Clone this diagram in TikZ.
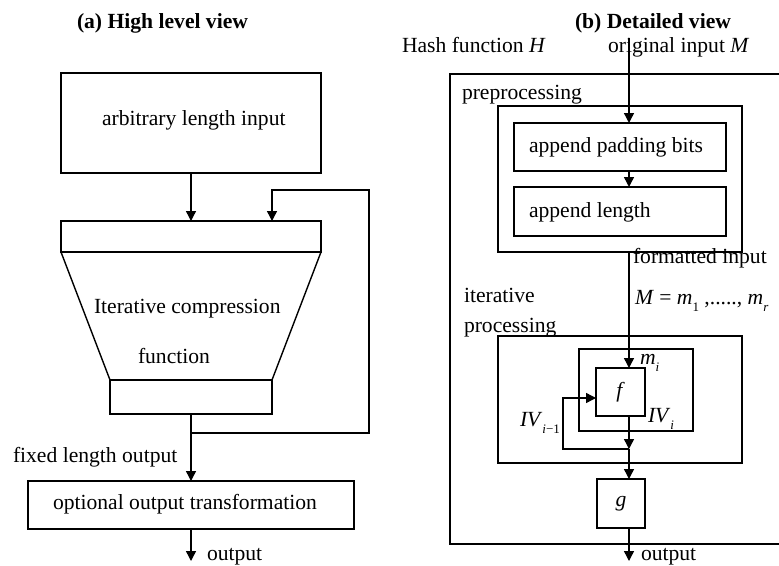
\documentclass[tikz,border=0pt]{standalone}
\usepackage{fontspec}
\setmainfont{Liberation Serif}
\usetikzlibrary{arrows.meta}
\newcommand{\sbx}[1]{\raisebox{-0.35em}{\fontsize{13}{13}\selectfont #1}}
\begin{document}
\begin{tikzpicture}[x=1pt,y=-1pt,
  line width=1.4pt,
  box/.style={draw, rectangle, inner sep=0pt, outer sep=0pt},
  txt/.style={inner sep=0pt, outer sep=0pt, anchor=base west, font=\fontsize{21.6}{26}\selectfont},
  ctxt/.style={inner sep=0pt, outer sep=0pt, font=\fontsize{21.6}{26}\selectfont},
  arr/.style={-{Triangle[length=10pt,width=10pt]}}]
\useasboundingbox (0,0) rectangle (779,565);

% ---------- (a) High level view ----------
\node[txt] (tA) at (77,28) {\bfseries (a) High level view};
\node[box, minimum width=260pt, minimum height=100pt] (ali) at (191,123) {};
\node[txt] (tali) at (102,125) {arbitrary length input};
\node[box, minimum width=260pt, minimum height=31pt] (ctop) at (191,236.5) {};
\node[box, minimum width=162pt, minimum height=34pt] (cbot) at (191,397) {};
\draw (ctop.south west) -- (cbot.north west);
\draw (ctop.south east) -- (cbot.north east);
\node[txt] (tic) at (94,313) {Iterative compression};
\node[txt] (tfn) at (138,363) {function};
\node[box, minimum width=326pt, minimum height=48pt] (opt) at (191,505) {};
\node[txt] (topt) at (53,509) {optional output transformation};
\node[txt] (tfix) at (13,462) {fixed length output};
\node[txt] (toutL) at (207,560) {output};

\draw[arr] (ali.south) -- (ctop.north);
\coordinate (j1) at (191,433);
\coordinate (fr) at (369,433);
\coordinate (ft) at (369,190);
\coordinate (fl) at (272,190);
\draw[arr] (j1) -- (fr) -- (ft) -- (fl) -- (fl |- ctop.north);
\draw[arr] (cbot.south) -- (opt.north);
\coordinate (outL) at (191,561);
\draw[arr] (opt.south) -- (outL);

% ---------- (b) Detailed view ----------
\node[txt] (tB) at (575,28) {\bfseries (b) Detailed view};
\node[txt] (tH) at (402,52) {Hash function \textit{H}};
\node[txt] (tM) at (608,52) {original input \textit{M}};
\draw (779,74) -- (450,74) -- (450,544) -- (779,544);

\node[txt] (tpre) at (462,99) {preprocessing};
\node[box, minimum width=244pt, minimum height=146pt] (pre) at (620,179) {};
\node[box, minimum width=212pt, minimum height=48pt] (pad) at (620,147) {};
\node[txt] (tpad) at (529,152) {append padding bits};
\node[box, minimum width=212pt, minimum height=49pt] (len) at (620,211.5) {};
\node[txt] (tlen) at (529,217) {append length};

\node[txt] (tfmt) at (633,263) {formatted input};
\node[txt] (tMm) at (635,304) {\textit{M} = \textit{m}\sbx{1} ,....., \textit{m}\sbx{\textit{r}}};
\node[txt] (tit1) at (464,302) {iterative};
\node[txt] (tit2) at (464,332) {processing};

\node[box, minimum width=244pt, minimum height=127pt] (iter) at (620,399.5) {};
\node[box, minimum width=114pt, minimum height=82pt] (inner) at (636,390) {};
\node[box, minimum width=49pt, minimum height=48pt] (fbox) at (620.5,392) {};
\node[ctxt] (tf) at (fbox.center) {\textit{f}};
\node[txt] (tmi) at (640,364) {\textit{m}\sbx{\textit{i}}};
\node[txt] (tIVi) at (648,422) {\textit{IV}\sbx{\textit{i}}};
\node[txt] (tIVim) at (520,426) {\textit{IV}\sbx{\textit{i}−1}};
\node[box, minimum width=48pt, minimum height=49pt] (gbox) at (621,503.5) {};
\node[ctxt] (tg) at (gbox.center) {\textit{g}};
\node[txt] (toutR) at (641,560) {output};

\coordinate (inM) at (629,38);
\draw[arr] (inM) -- (inM |- pad.north);
\draw[arr] (pad.south -| inM) -- (len.north -| inM);
\draw[arr] (pre.south -| inM) -- (fbox.north -| inM);
\coordinate (jn) at (629,449);
\draw[arr] (fbox.south -| inM) -- (jn);
\draw[arr] (jn) -- (gbox.north -| inM);
\coordinate (fbl) at (563,449);
\coordinate (fbu) at (563,398);
\draw[arr] (jn) -- (fbl) -- (fbu) -- (fbu -| fbox.west);
\coordinate (outR) at (629,561);
\draw[arr] (gbox.south -| inM) -- (outR);
\end{tikzpicture}
\end{document}
